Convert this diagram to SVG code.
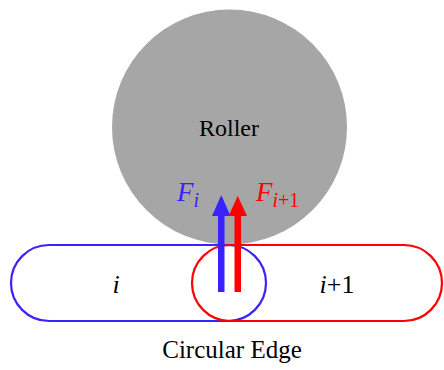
<svg xmlns="http://www.w3.org/2000/svg" width="444" height="370" viewBox="0 0 444 370">
<style>
.t{font-family:'Liberation Serif','DejaVu Serif',serif;fill:#000}
.m{font-family:'Liberation Serif','DejaVu Serif',serif;font-style:italic}
</style>
<rect width="444" height="370" fill="#fff"/>
<g id="roller">
<circle cx="229.5" cy="127" r="117.5" fill="#a6a6a6"/>
<text class="t" x="229" y="136" font-size="24" text-anchor="middle">Roller</text>
</g>
<g id="link-i">
<rect x="11" y="245" width="255" height="76" rx="38" ry="38" fill="none" stroke="#3a22ff" stroke-width="2.2"/>
<text class="m" x="116" y="293" font-size="26" text-anchor="middle">i</text>
</g>
<g id="link-i1">
<rect x="192" y="245" width="250" height="76" rx="38" ry="38" fill="none" stroke="#ff0000" stroke-width="2.2"/>
<text class="t" x="337" y="293" font-size="26" text-anchor="middle"><tspan font-style="italic">i</tspan>+1</text>
</g>
<g id="connectors">
<rect x="218" y="213" width="6.5" height="79" fill="#3a22ff"/>
<polygon points="221.3,195 212,216 230.5,216" fill="#3a22ff"/>
<rect x="234.5" y="213" width="6.5" height="79" fill="#ff0000"/>
<polygon points="237.8,196 228.5,216 247,216" fill="#ff0000"/>
</g>
<g id="labels">
<text class="m" x="177" y="201" font-size="27" fill="#3a22ff">F<tspan font-size="20" dy="6">i</tspan></text>
<text class="m" x="256" y="201" font-size="27" fill="#ff0000">F<tspan font-size="20" dy="6">i</tspan><tspan font-size="20" font-style="normal">+1</tspan></text>
</g>
<g id="caption">
<text class="t" x="232" y="358" font-size="25" text-anchor="middle">Circular Edge</text>
</g>
</svg>
